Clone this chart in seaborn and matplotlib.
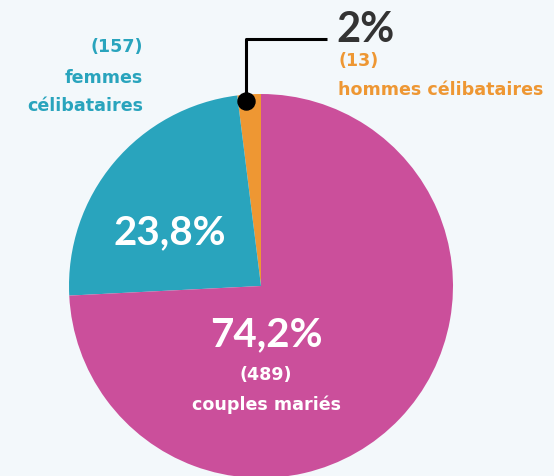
import matplotlib
matplotlib.use("Agg")
import matplotlib.pyplot as plt
import seaborn as sns

categories = ["hommes célibataires", "femmes célibataires", "couples mariés"]
counts = [13, 157, 489]
pct_labels = ["2%", "23,8%", "74,2%"]
colors = ["#EE9733", "#29A4BD", "#CB4F9B"]

sns.set_theme(style="white")
plt.rcParams['font.family'] = ['DejaVu Sans']

bg = "#F3F8FB"
W, H = 554, 477
fig = plt.figure(figsize=(W / 100, H / 100), dpi=100, facecolor=bg)
ax = fig.add_axes([0, 0, 1, 1])
ax.set_facecolor(bg)

cx, cy, r = 261, H - 287, 192
ax.pie(counts, colors=colors, startangle=90, counterclock=True,
       center=(cx, cy), radius=r, frame=True,
       wedgeprops=dict(linewidth=0))
ax.set_xlim(0, W)
ax.set_ylim(0, H)
ax.set_aspect("equal")
ax.axis("off")

def Y(py):
    return H - py

big = dict(family="Lato", fontweight="bold")
small = dict(family="DejaVu Sans", fontweight="bold", fontsize=12.6)

# teal label
ax.text(143, Y(47), f"({counts[1]})", ha="right", va="center", color=colors[1], **small)
ax.text(143, Y(78), "femmes", ha="right", va="center", color=colors[1], **small)
ax.text(143, Y(106), "célibataires", ha="right", va="center", color=colors[1], **small)
ax.text(170, Y(233), pct_labels[1], ha="center", va="center", color="white", fontsize=29, **big)

# orange label with leader
ax.plot([246, 246, 327], [Y(102), Y(40), Y(40)], color="black", lw=2.2, solid_capstyle="butt", zorder=5)
ax.scatter([246], [Y(102)], s=150, color="black", zorder=6)
ax.text(336, Y(30), pct_labels[0], ha="left", va="center", color="#333333", fontsize=30, **big)
ax.text(338, Y(61), f"({counts[0]})", ha="left", va="center", color=colors[0], **small)
ax.text(338, Y(90), "hommes célibataires", ha="left", va="center", color=colors[0], **small)

# magenta label
ax.text(266, Y(335), pct_labels[2], ha="center", va="center", color="white", fontsize=29, **big)
ax.text(266, Y(375), f"({counts[2]})", ha="center", va="center", color="white", **small)
ax.text(266, Y(405), "couples mariés", ha="center", va="center", color="white", **small)

fig.savefig("out.png", dpi=100, facecolor=bg)
